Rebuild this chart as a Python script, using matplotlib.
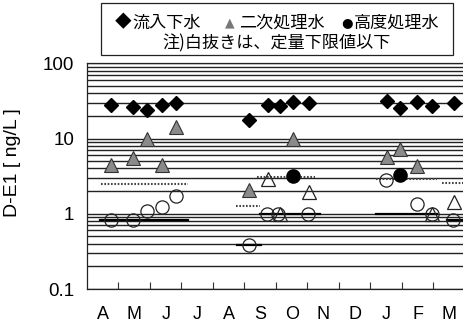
import numpy as np
import matplotlib.pyplot as plt
from matplotlib.ticker import LogLocator, FixedLocator, NullFormatter
from matplotlib.patches import Rectangle

# x = months since 1 April (0..12)
months = ['A', 'M', 'J', 'J', 'A', 'S', 'O', 'N', 'D', 'J', 'F', 'M']

# 流入下水 (inflow)
inf_x = [0.75, 1.45, 1.91, 2.39, 2.83, 5.15, 5.74, 6.12, 6.55, 7.04, 9.51, 9.95, 10.49, 10.95, 11.64]
inf_y = [27.7, 26.3, 24.3, 27.9, 29.7, 17.9, 28.3, 27.1, 31.0, 30.1, 31.6, 25.5, 31.0, 27.1, 30.1]

# 二次処理水 (secondary)
sec_x = [0.75, 1.45, 1.91, 2.39, 2.83, 5.15, 6.55, 9.51, 9.95, 10.49]
sec_y = [4.4, 5.5, 9.9, 4.4, 14.3, 2.07, 9.8, 5.6, 7.3, 4.25]
sec_open_x = [5.74, 6.12, 7.04, 10.95, 11.64]
sec_open_y = [2.9, 0.99, 1.94, 1.0, 1.45]

# 高度処理水 (advanced)
adv_x = [6.55, 9.95]
adv_y = [3.16, 3.3]
adv_open_x = [0.75, 1.45, 1.91, 2.39, 2.83, 5.15, 5.72, 6.05, 7.03, 9.49, 10.49, 10.95, 11.63]
adv_open_y = [0.82, 0.82, 1.08, 1.22, 1.70, 0.39, 1.0, 1.0, 1.0, 2.8, 1.33, 1.0, 0.82]

# horizontal segments (x start, x end, value)
dot_seg = [(0.44, 3.20, 2.45), (5.39, 7.24, 3.06), (4.73, 5.49, 1.26), (9.17, 11.12, 2.94), (11.28, 12.0, 2.57)]
sol_seg = [(0.41, 3.20, 0.82), (5.49, 7.40, 1.0), (4.75, 5.51, 0.39), (9.17, 11.11, 1.0), (11.42, 12.0, 0.82)]

plt.rcParams['font.family'] = ['Liberation Sans', 'DejaVu Sans']

fig = plt.figure(figsize=(4.64, 3.24), dpi=100)
ax = fig.add_axes([87/464, 35/324, 378/464, 225.7/324])

ax.set_yscale('log')
ax.set_ylim(0.1, 100)
ax.set_xlim(0, 12)

ax.yaxis.set_major_locator(FixedLocator([0.1, 1, 10, 100]))
ax.set_yticklabels(['0.1', '1', '10', '100'])
ax.yaxis.set_minor_locator(LogLocator(base=10, subs=np.arange(2, 10)))
ax.yaxis.set_minor_formatter(NullFormatter())
ax.grid(axis='y', which='both', color='#222222', lw=1.0, zorder=1)
ax.set_axisbelow(True)
ax.tick_params(axis='y', which='both', length=0, pad=9, labelsize=13.5)

ax.set_xticks(np.arange(1, 12))
ax.set_xticklabels([])
ax.set_xticks(np.arange(12) + 0.5, minor=True)
ax.set_xticklabels(months, minor=True)
ax.tick_params(axis='x', which='major', direction='in', length=5, width=0.8, color='#333333')
ax.tick_params(axis='x', which='minor', length=0, pad=12, labelsize=13)

for s in ax.spines.values():
    s.set_color('#222222')
    s.set_linewidth(0.9)

for x0, x1, v in dot_seg:
    ax.plot([x0, x1], [v, v], color='#444444', lw=1.5, ls=(0, (0.8, 0.8)), zorder=2)
for x0, x1, v in sol_seg:
    ax.plot([x0, x1], [v, v], color='black', lw=1.6, zorder=2)

ax.plot(inf_x, inf_y, 'D', ms=7.2, color='black', zorder=4)
ax.plot(sec_x, sec_y, '^', ms=9.5, mfc='#8a8a8a', mec='#333333', mew=0.8, zorder=4)
ax.plot(sec_open_x, sec_open_y, '^', ms=9.5, mfc='none', mec='#222222', mew=0.9, zorder=4)
ax.plot(adv_x, adv_y, 'o', ms=9.5, color='black', zorder=4)
ax.plot(adv_open_x, adv_open_y, 'o', ms=9.5, mfc='none', mec='#222222', mew=0.9, zorder=4)

fig.text(12.7/464, 1 - 163/324, 'D-E1 [ ng/L ]', rotation=90, ha='center', va='center', fontsize=14)

# legend box
fig.patches.append(Rectangle((101/464, 1 - 55/324), 352/464, 52/324, transform=fig.transFigure,
                             fill=False, ec='#222222', lw=0.9))
jp = ['Noto Sans CJK JP', 'DejaVu Sans']
ly1 = 1 - 23/324
fig.text(115/464, ly1, '◆', ha='left', va='center', fontsize=12, family=jp)
fig.text(132/464, ly1, '流入下水', ha='left', va='center', fontsize=12.3, family=jp)
fig.text(225/464, ly1, '▲', ha='left', va='center', fontsize=9, family=['DejaVu Sans'], color='#777777')
fig.text(239/464, ly1, '二次処理水', ha='left', va='center', fontsize=12.3, family=jp)
fig.text(341/464, ly1, '●', ha='left', va='center', fontsize=9.5, family=['DejaVu Sans'], color='black')
fig.text(354/464, ly1, '高度処理水', ha='left', va='center', fontsize=12.3, family=jp)
fig.text(277/464, 1 - 43/324, '注)白抜きは、定量下限値以下', ha='center', va='center', fontsize=12.3, family=jp)

fig.savefig('out.png', dpi=100)
